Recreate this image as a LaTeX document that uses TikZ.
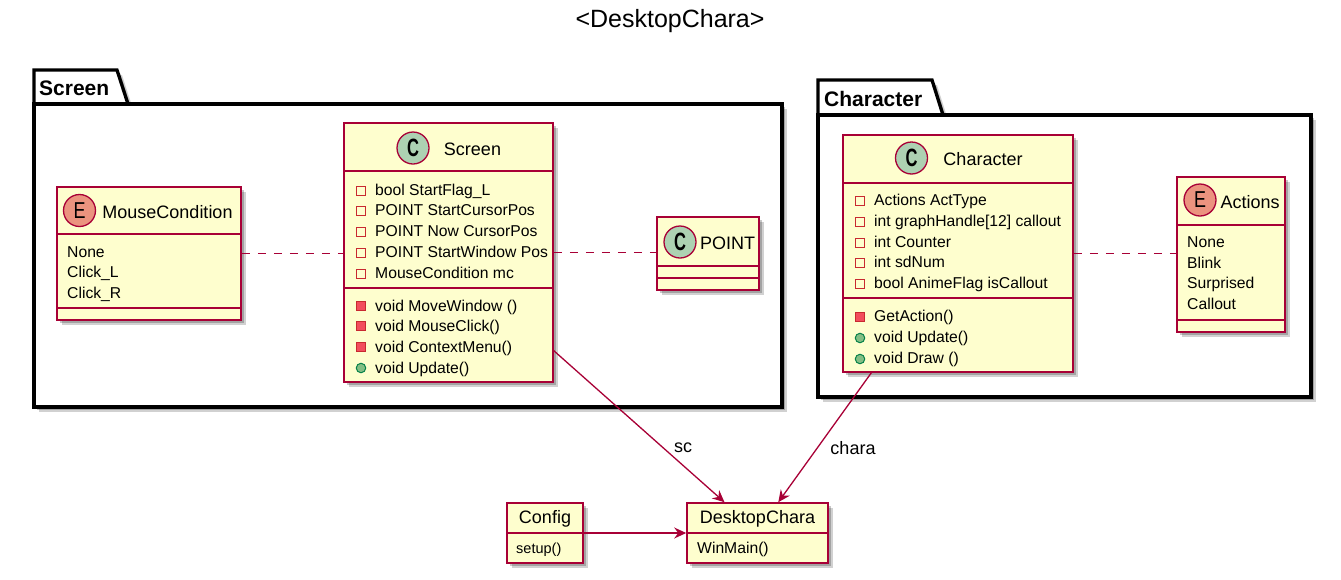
\documentclass[tikz,border=0pt]{standalone}
\usepackage{fontspec}
\setmainfont{Liberation Sans}
\usetikzlibrary{fit,shadows,arrows.meta,calc}
\definecolor{umlred}{HTML}{A80036}
\definecolor{umlfill}{HTML}{FEFECE}
\definecolor{cgreen}{HTML}{ADD1B2}
\definecolor{eorange}{HTML}{EB937F}
\definecolor{privred}{HTML}{C82930}
\definecolor{privfill}{HTML}{F24D5C}
\definecolor{pubfill}{HTML}{84BE84}
\definecolor{publine}{HTML}{038048}
\begin{document}
\begin{tikzpicture}[x=1pt,y=-1pt,
  umlshadow/.style={drop shadow={shadow xshift=3pt,shadow yshift=-3pt,opacity=0.22,fill=black},
                    drop shadow={shadow xshift=5pt,shadow yshift=-5pt,opacity=0.18,fill=black}},
  cls/.style={draw=umlred,fill=umlfill,line width=1.6pt,inner sep=0pt,umlshadow},
  pkg/.style={draw=black,fill=white,line width=3.3pt,inner sep=0pt,umlshadow},
  pkgtab/.style={draw=black,fill=white,line width=3.3pt,line join=miter,umlshadow},
  pkglbl/.style={anchor=west,inner sep=0pt,font=\fontsize{21}{25}\selectfont\bfseries},
  divline/.style={draw=umlred,line width=1.6pt},
  mem/.style={anchor=mid west,inner sep=0pt,font=\fontsize{15.7}{19}\selectfont},
  cname/.style={inner sep=0pt,font=\fontsize{18}{21}\selectfont},
  pattr/.style={rectangle,draw=privred,fill=none,line width=1.1pt,minimum size=8.5pt,inner sep=0pt},
  pmeth/.style={rectangle,draw=privred,fill=privfill,line width=1pt,minimum size=9.5pt,inner sep=0pt},
  pubm/.style={circle,draw=publine,fill=pubfill,line width=1pt,minimum size=9.5pt,inner sep=0pt},
  cicon/.style={circle,draw=umlred,fill=cgreen,line width=1.3pt,minimum size=32pt,inner sep=0pt,
    font=\fontsize{25}{25}\selectfont\bfseries},
  eicon/.style={circle,draw=umlred,fill=eorange,line width=1.3pt,minimum size=32pt,inner sep=0pt,
    font=\fontsize{23}{23}\selectfont},
  dashline/.style={draw=umlred,line width=1.3pt,dash pattern=on 8pt off 8pt},
  arr/.style={draw=umlred,line width=1.3pt,-{Stealth[length=12pt,width=11pt,inset=4pt]}},
  lbl/.style={inner sep=0pt,font=\fontsize{18}{21}\selectfont}
]
\useasboundingbox (0,0) rectangle (1341,579);

% title
\node[font=\fontsize{25}{30}\selectfont,inner sep=0pt] (title) at (670,21) {<DesktopChara>};

% Screen package
\draw[pkgtab] (34,104) -- (34,70) -- (117,70) -- (128,104) -- cycle;
\node[pkg,fit={(34,104) (782,407)}] (screenpkg) {};
\node[pkglbl] (screenpkglbl) at (39,88) {Screen};

% Character package
\draw[pkgtab] (818,115) -- (818,80) -- (932,80) -- (943,115) -- cycle;
\node[pkg,fit={(818,115) (1311,397)}] (charpkg) {};
\node[pkglbl] (charpkglbl) at (824,99) {Character};

% MouseCondition enum
\node[cls,fit={(57,187) (241,320)}] (mouse) {};
\draw[divline] (57,234) -- (241,234);
\draw[divline] (57,308) -- (241,308);
\node[eicon] (mouseE) at (79.5,210.5) {\scalebox{0.78}[1]{E}};
\node[cname] (mousename) at (167.5,212) {MouseCondition};
\node[mem] (mc1) at (67,255) {None};
\node[mem] (mc2) at (67,275) {Click\_L};
\node[mem] (mc3) at (67,296) {Click\_R};

% Screen class
\node[cls,fit={(344,123) (553,382)}] (screen) {};
\draw[divline] (344,171) -- (553,171);
\draw[divline] (344,288) -- (553,288);
\node[cicon] (screenC) at (413,148) {\scalebox{0.66}[1]{C}};
\node[cname] (screenname) at (472.5,149) {Screen};
\node[pattr] (sa1i) at (361,191) {}; \node[mem] (sa1) at (375,193) {bool StartFlag\_L};
\node[pattr] (sa2i) at (361,211) {}; \node[mem] (sa2) at (375,213) {POINT StartCursorPos};
\node[pattr] (sa3i) at (361,232) {}; \node[mem] (sa3) at (375,234) {POINT Now CursorPos};
\node[pattr] (sa4i) at (361,253) {}; \node[mem] (sa4) at (375,255) {POINT StartWindow Pos};
\node[pattr] (sa5i) at (361,274) {}; \node[mem] (sa5) at (375,276) {MouseCondition mc};
\node[pmeth] (sm1i) at (361,306) {}; \node[mem] (sm1) at (375,309) {void MoveWindow ()};
\node[pmeth] (sm2i) at (361,326) {}; \node[mem] (sm2) at (375,329) {void MouseClick()};
\node[pmeth] (sm3i) at (361,347) {}; \node[mem] (sm3) at (375,350) {void ContextMenu()};
\node[pubm] (sm4i) at (361,368) {}; \node[mem] (sm4) at (375,371) {void Update()};

% POINT class
\node[cls,fit={(657,217) (759,290)}] (point) {};
\draw[divline] (657,266) -- (759,266);
\draw[divline] (657,278) -- (759,278);
\node[cicon] (pointC) at (680,242) {\scalebox{0.66}[1]{C}};
\node[cname] (pointname) at (727.5,243) {POINT};

% Character class
\node[cls,fit={(843,135) (1073,372)}] (char) {};
\draw[divline] (843,183) -- (1073,183);
\draw[divline] (843,298) -- (1073,298);
\node[cicon] (charC) at (911.5,158) {\scalebox{0.66}[1]{C}};
\node[cname] (charname) at (983,159) {Character};
\node[pattr] (ca1i) at (860,201) {}; \node[mem] (ca1) at (874,203) {Actions ActType};
\node[pattr] (ca2i) at (860,222) {}; \node[mem] (ca2) at (874,224) {int graphHandle[12] callout};
\node[pattr] (ca3i) at (860,243) {}; \node[mem] (ca3) at (874,245) {int Counter};
\node[pattr] (ca4i) at (860,263) {}; \node[mem] (ca4) at (874,265) {int sdNum};
\node[pattr] (ca5i) at (860,284) {}; \node[mem] (ca5) at (874,286) {bool AnimeFlag isCallout};
\node[pmeth] (cm1i) at (860,317) {}; \node[mem] (cm1) at (874,319) {GetAction()};
\node[pubm] (cm2i) at (860,338) {}; \node[mem] (cm2) at (874,340) {void Update()};
\node[pubm] (cm3i) at (860,359) {}; \node[mem] (cm3) at (874,361) {void Draw ()};

% Actions enum
\node[cls,fit={(1177,177) (1285,332)}] (actions) {};
\draw[divline] (1177,225) -- (1285,225);
\draw[divline] (1177,320) -- (1285,320);
\node[eicon] (actionsE) at (1200,200) {\scalebox{0.78}[1]{E}};
\node[cname] (actionsname) at (1250,202) {Actions};
\node[mem] (av1) at (1187,245) {None};
\node[mem] (av2) at (1187,266) {Blink};
\node[mem] (av3) at (1187,286) {Surprised};
\node[mem] (av4) at (1187,307) {Callout};

% Config
\node[cls,fit={(507,503) (583,563)}] (config) {};
\draw[divline] (507,533) -- (583,533);
\node[cname] (configname) at (545,519) {Config};
\node[anchor=mid west,inner sep=0pt,font=\fontsize{14.5}{17}\selectfont] (configm) at (516,551) {setup()};

% DesktopChara
\node[cls,fit={(687,503) (828,563)}] (desk) {};
\draw[divline] (687,533) -- (828,533);
\node[cname] (deskname) at (757.5,519) {DesktopChara};
\node[mem] (deskm) at (697,551) {WinMain()};

% connectors
\draw[dashline] (mouse.east) -- (mouse.east -| screen.west);
\draw[dashline] (screen.east) -- (screen.east -| point.west);
\draw[dashline] (char.east) -- (char.east -| actions.west);
\draw[arr] (screen.-43) -- (desk.137);
\draw[arr] (char.-126) -- (desk.56);
\draw[arr] (config.east) -- (desk.west);
\node[lbl] (sclbl) at (683,448) {sc};
\node[lbl] (charalbl) at (853,448) {chara};
\end{tikzpicture}
\end{document}
